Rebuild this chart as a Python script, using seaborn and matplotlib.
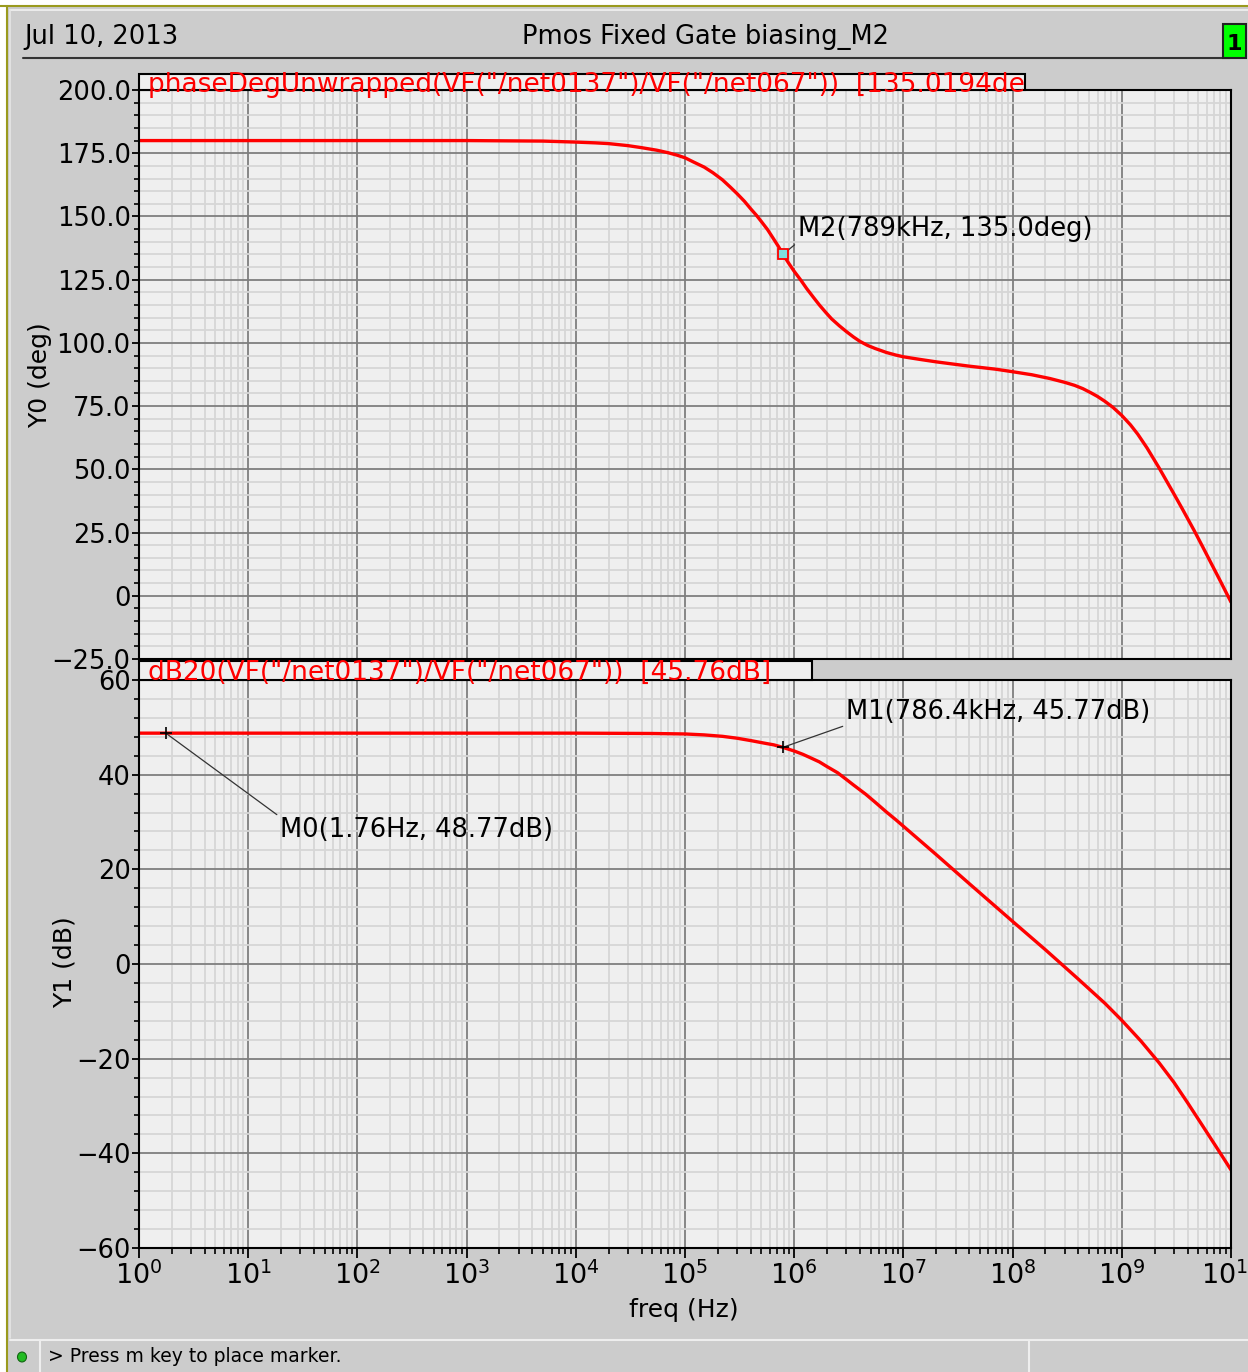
import matplotlib
matplotlib.use('Agg')
import matplotlib.pyplot as plt
import seaborn as sns
import numpy as np
import pandas as pd
from matplotlib.ticker import LogLocator, MultipleLocator, FixedLocator, FuncFormatter, NullFormatter
from matplotlib.patches import Rectangle, Circle
from matplotlib.lines import Line2D

W, H = 1248, 1372

# phase curve (deg)
phase_freq = [1, 10, 100, 1e3, 5e3, 1e4, 1.5e4, 2e4, 3e4, 4e4, 5.5e4, 7e4, 8.5e4, 1e5,
              1.2e5, 1.5e5, 1.8e5, 2.2e5, 2.6e5, 3e5, 3.5e5, 4e5, 4.5e5, 5e5, 5.7e5, 6.5e5,
              7.2e5, 7.89e5, 9e5, 1e6, 1.15e6, 1.3e6, 1.5e6, 1.7e6, 1.95e6, 2.2e6, 2.6e6,
              3e6, 3.5e6, 4e6, 4.7e6, 5.5e6, 7e6, 8.5e6, 1e7, 1.4e7, 2e7, 3e7, 4e7, 7e7,
              1e8, 1.5e8, 2.2e8, 3e8, 3.7e8, 4.4e8, 5.2e8, 6e8, 7e8, 8.3e8, 1e9, 1.2e9,
              1.4e9, 1.7e9, 2.2e9, 2.6e9, 3e9, 3.6e9, 4.6e9, 5.5e9, 6.5e9, 7.8e9, 9.1e9, 1e10]
phase_deg = [180.0, 180.0, 180.0, 180.0, 179.8, 179.4, 179.1, 178.8, 178.0, 177.2, 176.2,
             175.2, 174.2, 173.2, 171.5, 169.5, 167.3, 164.5, 161.6, 159.0, 156.0, 153.0,
             150.5, 148.0, 144.8, 141.0, 138.0, 135.0, 131.2, 128.3, 124.8, 121.5, 118.0,
             115.0, 112.0, 109.5, 106.7, 104.5, 102.3, 100.6, 99.0, 97.8, 96.2, 95.2, 94.5,
             93.5, 92.5, 91.5, 90.8, 89.6, 88.6, 87.4, 85.9, 84.4, 83.2, 81.9, 80.3, 78.8,
             76.9, 74.5, 71.3, 67.6, 63.9, 58.5, 50.5, 45.0, 40.3, 34.2, 25.8, 19.4, 13.3,
             6.7, 1.0, -2.5]

# magnitude curve (dB)
mag_freq = [1, 10, 100, 1e3, 1e4, 5e4, 1e5, 1.5e5, 2.2e5, 3e5, 4e5, 5.5e5, 6.5e5, 7.864e5,
            1e6, 1.2e6, 1.4e6, 1.7e6, 2e6, 2.5e6, 3e6, 3.5e6, 4.5e6, 5.5e6, 7e6, 8.5e6, 1e7,
            2e7, 4e7, 1e8, 2e8, 4e8, 7e8, 1e9, 1.5e9, 2.2e9, 3e9, 4e9, 5.5e9, 7.5e9, 1e10]
mag_db = [48.77, 48.77, 48.77, 48.77, 48.77, 48.7, 48.6, 48.4, 48.1, 47.7, 47.2, 46.6,
          46.3, 45.77, 45.0, 44.3, 43.6, 42.7, 41.7, 40.4, 39.0, 37.8, 35.9, 34.2, 32.1,
          30.5, 29.1, 23.1, 17.0, 9.0, 3.0, -3.2, -8.3, -11.9, -16.3, -20.9, -25.0, -29.3,
          -34.2, -39.0, -43.5]

phase_ticks = [-25, 0, 25, 50, 75, 100, 125, 150, 175, 200]
mag_ticks = [-60, -40, -20, 0, 20, 40, 60]

m0 = (1.76, 48.77)
m1 = (786.4e3, 45.77)
m2 = (789e3, 135.0)

phase_title = 'phaseDegUnwrapped(VF("/net0137")/VF("/net067"))  [135.0194de'
mag_title = 'dB20(VF("/net0137")/VF("/net067"))  [45.76dB]'

sns.set_style('white')
plt.rcParams['font.family'] = ['DejaVu Sans']
plt.rcParams['text.color'] = 'black'
plt.rcParams['xtick.color'] = 'black'
plt.rcParams['ytick.color'] = 'black'

FS = 18.5


def fx(x):
    return x / W


def fy(y):
    return 1 - y / H


fig = plt.figure(figsize=(W / 100, H / 100), dpi=100, facecolor='white')

# window background and frame
fig.patches.append(Rectangle((fx(7), 0), 1 - fx(7), fy(6), transform=fig.transFigure,
                             facecolor='#cccccc', edgecolor='none', zorder=-10))
fig.lines.append(Line2D([0, 1], [fy(6), fy(6)], transform=fig.transFigure, color='#9a9a1e', lw=1.5))
fig.lines.append(Line2D([fx(7), fx(7)], [0, fy(6)], transform=fig.transFigure, color='#9a9a1e', lw=1.5))
fig.lines.append(Line2D([fx(10), 1], [fy(10), fy(10)], transform=fig.transFigure, color='#f2f2f2', lw=1.2))
fig.lines.append(Line2D([fx(10), fx(10)], [fy(1338), fy(10)], transform=fig.transFigure, color='#e6e6e6', lw=1.2))

# header
fig.text(fx(24), fy(37), 'Jul 10, 2013', fontsize=FS, va='center', ha='left')
fig.text(fx(705), fy(37), 'Pmos Fixed Gate biasing_M2', fontsize=FS, va='center', ha='center')
fig.lines.append(Line2D([fx(23), fx(1230)], [fy(58), fy(58)], transform=fig.transFigure, color='#333333', lw=1.5))
fig.patches.append(Rectangle((fx(1223), fy(58)), (1246 - 1223) / W, (58 - 24) / H, transform=fig.transFigure,
                             facecolor='#00ff00', edgecolor='#222222', lw=1.5, zorder=3))
fig.text(fx(1234.5), fy(44), '1', fontsize=16, fontweight='bold', va='center', ha='center', zorder=4)


def style_axes(ax, ticks, minor_step, fmt):
    ax.set_facecolor('#efefef')
    ax.set_xscale('log')
    ax.set_xlim(1, 1e10)
    ax.set_ylim(ticks[0], ticks[-1])
    ax.yaxis.set_major_locator(FixedLocator(ticks))
    ax.yaxis.set_minor_locator(MultipleLocator(minor_step))
    ax.yaxis.set_major_formatter(FuncFormatter(fmt))
    ax.xaxis.set_major_locator(LogLocator(base=10, numticks=20))
    ax.xaxis.set_minor_locator(LogLocator(base=10, subs=np.arange(2, 10), numticks=20))
    ax.xaxis.set_minor_formatter(NullFormatter())
    ax.grid(which='minor', color='#d6d6d6', lw=1.3)
    ax.grid(which='major', color='#7f7f7f', lw=1.3)
    ax.set_axisbelow(True)
    for s in ax.spines.values():
        s.set_color('black')
        s.set_linewidth(1.5)
    ax.tick_params(axis='y', which='major', direction='out', length=5, width=1.3,
                   labelsize=FS, pad=1, left=True, right=False)
    ax.tick_params(axis='y', which='minor', direction='out', length=3.5, width=1.2, left=True, right=False)
    ax.set_xlabel('')
    ax.set_ylabel('')


def fmt_phase(v, pos):
    if v == 0:
        return '0'
    return f'{v:.1f}'.replace('-', '\u2212')


def fmt_mag(v, pos):
    return f'{v:.0f}'.replace('-', '\u2212')


# top panel: phase
ax0 = fig.add_axes([fx(139), fy(659), (1231 - 139) / W, (659 - 90) / H])
ax0.set_xscale('log')
sns.lineplot(x=phase_freq, y=phase_deg, ax=ax0, color='red', lw=2.4, estimator=None, sort=False)
style_axes(ax0, phase_ticks, 5, fmt_phase)
ax0.tick_params(axis='x', which='both', bottom=False, top=False, labelbottom=False)
ax0.plot([m2[0]], [m2[1]], marker='s', ms=7, mfc='#7fe0e0', mec='red', mew=1.3, zorder=5)
ax0.annotate('M2(789kHz, 135.0deg)', xy=m2, xytext=(1.08e6, 145.0), fontsize=FS, ha='left', va='center',
             arrowprops=dict(arrowstyle='-', color='#333333', lw=0.9, relpos=(0, 0), shrinkA=0, shrinkB=2))

# bottom panel: magnitude
ax1 = fig.add_axes([fx(139), fy(1248), (1231 - 139) / W, (1248 - 680) / H])
ax1.set_xscale('log')
sns.lineplot(x=mag_freq, y=mag_db, ax=ax1, color='red', lw=2.4, estimator=None, sort=False)
style_axes(ax1, mag_ticks, 4, fmt_mag)
ax1.tick_params(axis='x', which='major', direction='out', length=7, width=1.3, labelsize=19.5, pad=3,
                bottom=True, top=False)
ax1.tick_params(axis='x', which='minor', direction='out', length=4, width=1.2, bottom=True, top=False)
ax1.plot([m0[0], m1[0]], [m0[1], m1[1]], ls='none', marker='+', ms=9, mec='black', mew=1.2, zorder=5)
ax1.annotate('M0(1.76Hz, 48.77dB)', xy=m0, xytext=(19.6, 28.3), fontsize=FS, ha='left', va='center',
             arrowprops=dict(arrowstyle='-', color='#333333', lw=0.9, relpos=(0, 1), shrinkA=0, shrinkB=0))
ax1.annotate('M1(786.4kHz, 45.77dB)', xy=m1, xytext=(2.98e6, 53.2), fontsize=FS, ha='left', va='center',
             arrowprops=dict(arrowstyle='-', color='#333333', lw=0.9, relpos=(0, 0), shrinkA=0, shrinkB=0))

# trace name tabs
fig.patches.append(Rectangle((fx(139), fy(90)), (1025 - 139) / W, 16 / H, transform=fig.transFigure,
                             facecolor='#efefef', edgecolor='black', lw=1.5, zorder=4))
fig.text(fx(148), fy(85), phase_title, fontsize=19, color='red', va='center', ha='left', zorder=6)
fig.patches.append(Rectangle((fx(139), fy(680)), (812 - 139) / W, 19 / H, transform=fig.transFigure,
                             facecolor='#efefef', edgecolor='black', lw=1.5, zorder=4))
fig.text(fx(148), fy(673), mag_title, fontsize=19, color='red', va='center', ha='left', zorder=6)

# axis titles
fig.text(fx(40), fy(375), 'Y0 (deg)', fontsize=18, rotation=90, va='center', ha='center')
fig.text(fx(65), fy(962), 'Y1 (dB)', fontsize=18, rotation=90, va='center', ha='center')
fig.text(fx(684), fy(1310), 'freq (Hz)', fontsize=18, va='center', ha='center')

# status bar
fig.lines.append(Line2D([fx(10), 1], [fy(1340), fy(1340)], transform=fig.transFigure, color='#eeeeee', lw=1.5))
fig.lines.append(Line2D([fx(40), fx(40)], [0, fy(1340)], transform=fig.transFigure, color='#eeeeee', lw=1.5))
fig.lines.append(Line2D([fx(1029), fx(1029)], [0, fy(1340)], transform=fig.transFigure, color='#eeeeee', lw=1.5))
fig.patches.append(Circle((fx(22), fy(1357)), 4.5 / W, transform=fig.transFigure, facecolor='#22bb22',
                          edgecolor='#116611', lw=0.8))
fig.text(fx(48), fy(1357), '> Press m key to place marker.', fontsize=13.5, va='center', ha='left')

fig.savefig('out.png', dpi=100, facecolor=fig.get_facecolor())
